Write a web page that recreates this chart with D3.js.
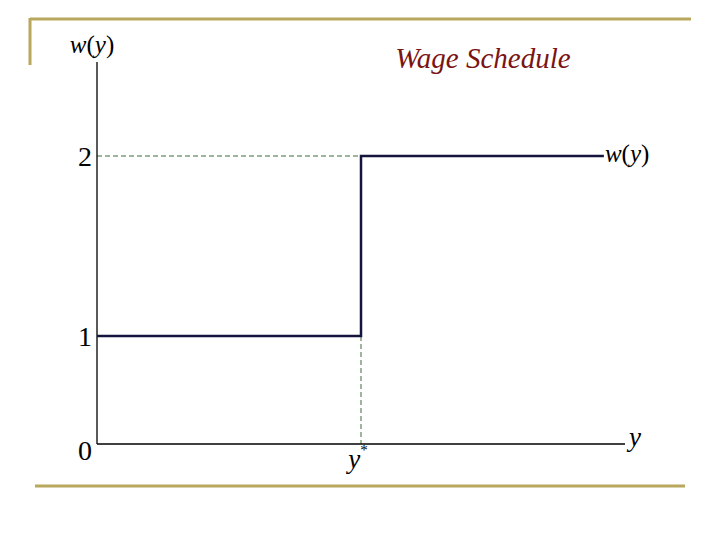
<!DOCTYPE html>
<html>
<head>
<meta charset="utf-8">
<script src="https://d3js.org/d3.v7.min.js"></script>
<style>
body{margin:0;background:#fff;}
text{font-family:"Times New Roman","Liberation Serif",Times,serif;}
</style>
</head>
<body>
<svg id="chart"></svg>
<script>
// step function data
var wageLevels = [1, 2]          // w(y) below and above y*
var stepBreaks = [0, 5, 9.6]     // x positions: start, y*, end
var yTickValues = [0, 1, 2]
var yTickLabels = ["0", "1", "2"]
var xMax = 10
var yTop = 2.5

var screen = {width:720, height:540}

var svg = d3.select("#chart")
    .attr("width", screen.width)
    .attr("height", screen.height)

// slide frame lines
var gold = "#b8a75c"
svg.append("line").attr("x1",30).attr("x2",691).attr("y1",19).attr("y2",19)
    .attr("stroke",gold).attr("stroke-width",3)
svg.append("line").attr("x1",30).attr("x2",30).attr("y1",18).attr("y2",65)
    .attr("stroke",gold).attr("stroke-width",3)
svg.append("line").attr("x1",35).attr("x2",685).attr("y1",486).attr("y2",486)
    .attr("stroke",gold).attr("stroke-width",3)

// scales (the drawing is not to scale on the vertical axis)
var xScale = d3.scaleLinear()
    .domain([0, xMax])
    .range([97, 625])

var yScale = d3.scaleLinear()
    .domain([0, 1, 2, yTop])
    .range([444, 336, 156, 62])

// title
svg.append("text")
    .attr("x", 483).attr("y", 68)
    .attr("text-anchor","middle")
    .attr("font-size", 29)
    .attr("font-style","italic")
    .attr("fill","#7a1414")
    .text("Wage Schedule")

// guide lines
var dash = "#3d6b3d"
svg.append("line")
    .attr("x1", xScale(0)).attr("x2", xScale(stepBreaks[1]))
    .attr("y1", yScale(wageLevels[1])).attr("y2", yScale(wageLevels[1]))
    .attr("stroke", dash).attr("stroke-width",1).attr("stroke-dasharray","5,3")
svg.append("line")
    .attr("x1", xScale(stepBreaks[1])).attr("x2", xScale(stepBreaks[1]))
    .attr("y1", yScale(wageLevels[0])).attr("y2", yScale(0))
    .attr("stroke", dash).attr("stroke-width",1).attr("stroke-dasharray","5,3")

// axes
svg.append("line")
    .attr("x1", xScale(0)).attr("x2", xScale(0))
    .attr("y1", yScale(yTop)).attr("y2", yScale(0))
    .attr("stroke","#000").attr("stroke-width",1.3)
svg.append("line")
    .attr("x1", xScale(0)).attr("x2", xScale(xMax))
    .attr("y1", yScale(0)).attr("y2", yScale(0))
    .attr("stroke","#000").attr("stroke-width",1.3)

// tick labels
svg.selectAll(".ytick")
    .data(yTickValues)
    .enter()
    .append("text")
    .classed("ytick", true)
    .attr("x", 85)
    .attr("y", function(d){return yScale(d) + (d == 0 ? 16 : 10)})
    .attr("text-anchor","middle")
    .attr("font-size", 28)
    .text(function(d,i){return yTickLabels[i]})

// step line
var stepData = [
    {x:stepBreaks[0], w:wageLevels[0]},
    {x:stepBreaks[1], w:wageLevels[0]},
    {x:stepBreaks[1], w:wageLevels[1]},
    {x:stepBreaks[2], w:wageLevels[1]}
]
var line = d3.line()
    .x(function(d){return xScale(d.x)})
    .y(function(d){return yScale(d.w)})
svg.append("path")
    .datum(stepData)
    .attr("d", line)
    .attr("fill","none")
    .attr("stroke","#14143c")
    .attr("stroke-width",2.5)

// axis labels with italic variables
var wy = function(x, y, anchor)
{
    var t = svg.append("text")
        .attr("x", x).attr("y", y)
        .attr("text-anchor", anchor)
        .attr("font-size", 25)
    t.append("tspan").attr("font-style","italic").text("w")
    t.append("tspan").text("(")
    t.append("tspan").attr("font-style","italic").text("y")
    t.append("tspan").text(")")
}
wy(92, 53, "middle")
wy(xScale(stepBreaks[2]) + 1, yScale(wageLevels[1]) + 6, "start")

svg.append("text")
    .attr("x", xScale(xMax) + 4).attr("y", yScale(0) + 2)
    .attr("font-size", 27).attr("font-style","italic")
    .text("y")

var ys = svg.append("text")
    .attr("x", xScale(stepBreaks[1]) - 3).attr("y", yScale(0) + 24)
    .attr("text-anchor","middle")
    .attr("font-size", 27).attr("font-style","italic")
ys.append("tspan").text("y")
ys.append("tspan").attr("font-size",15).attr("font-style","normal").attr("dy",-13).text("*")
</script>
</body>
</html>
